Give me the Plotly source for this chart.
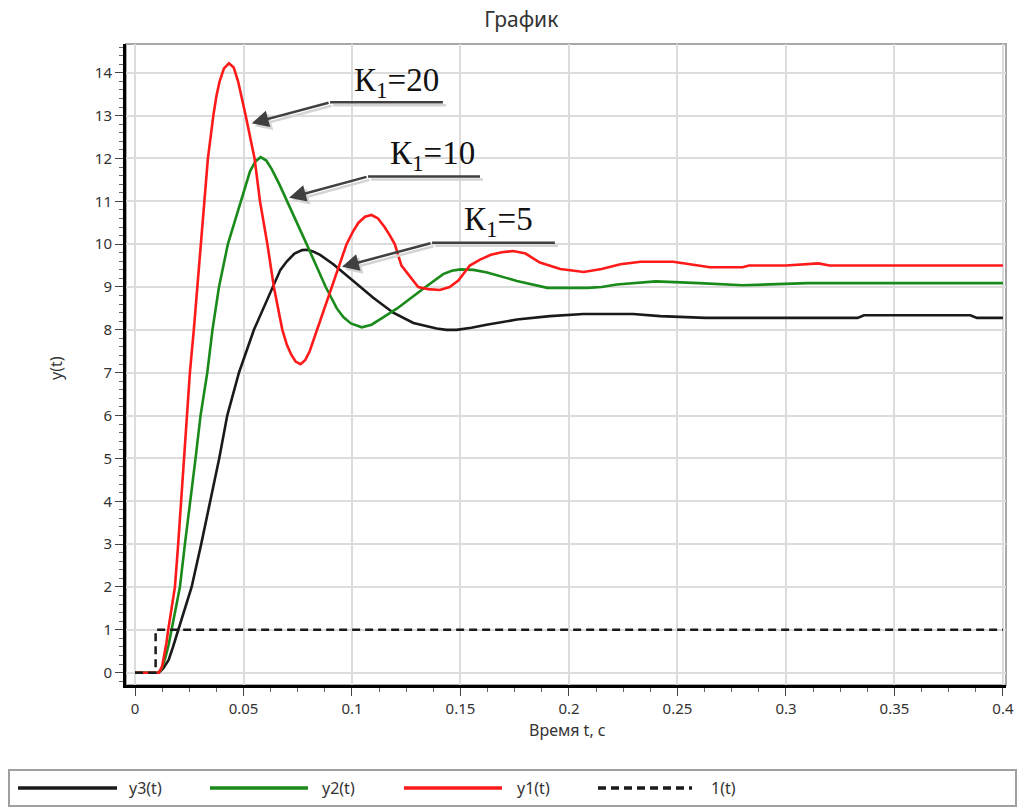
import plotly.graph_objects as go

# ---------------- data ----------------
series_names = ["y3(t)", "y2(t)", "y1(t)", "1(t)"]
series_colors = ["#1a1a1a", "#1a8a1a", "#ff1a1a", "#1a1a1a"]

t_y1 = [0, 0.011, 0.0125, 0.0135, 0.0145, 0.0153, 0.0184, 0.0199, 0.0213, 0.0225, 0.0238,
        0.0253, 0.0271, 0.0287, 0.0305, 0.0321, 0.0336, 0.0361, 0.0375, 0.039, 0.041, 0.0433,
        0.0455, 0.0475, 0.0495, 0.051, 0.0551, 0.0576, 0.061, 0.064, 0.0679, 0.070, 0.072,
        0.074, 0.0763, 0.0785, 0.0805, 0.082, 0.0837, 0.0906, 0.0975, 0.1005, 0.103, 0.106,
        0.109, 0.112, 0.115, 0.1175, 0.1197, 0.1228, 0.1305, 0.135, 0.1405, 0.145, 0.149,
        0.1543, 0.159, 0.164, 0.169, 0.1743, 0.18, 0.1866, 0.196, 0.2068, 0.215, 0.2237,
        0.233, 0.248, 0.256, 0.265, 0.28, 0.283, 0.30, 0.315, 0.32, 0.4]
y1 = [0, 0, 0.15, 0.4, 0.7, 1, 2, 3, 4, 5, 6,
      7, 8, 9, 10, 11, 12, 13, 13.45, 13.8, 14.1, 14.22,
      14.12, 13.8, 13.35, 13, 12, 11, 10, 9, 8, 7.65, 7.42,
      7.26, 7.2, 7.3, 7.5, 7.72, 8, 9, 10, 10.3, 10.5, 10.64,
      10.68, 10.6, 10.4, 10.2, 10, 9.5, 9.0, 8.95, 8.93, 9.0, 9.15,
      9.5, 9.64, 9.75, 9.81, 9.84, 9.78, 9.57, 9.42, 9.35, 9.42, 9.53,
      9.59, 9.59, 9.53, 9.46, 9.46, 9.5, 9.5, 9.55, 9.5, 9.5]

t_y2 = [0, 0.011, 0.0125, 0.014, 0.0155, 0.0168, 0.0207, 0.023, 0.0256, 0.0279, 0.0302,
        0.0333, 0.0357, 0.0387, 0.0428, 0.0487, 0.051, 0.053, 0.0555, 0.0579, 0.0605, 0.063,
        0.0665, 0.0702, 0.0791, 0.0879, 0.093, 0.096, 0.0995, 0.1045, 0.109, 0.114, 0.1208,
        0.1339, 0.138, 0.142, 0.146, 0.15, 0.156, 0.1623, 0.176, 0.19, 0.2085, 0.215,
        0.222, 0.232, 0.24, 0.26, 0.28, 0.31, 0.4]
y2 = [0, 0, 0.12, 0.35, 0.65, 1, 2, 3, 4, 5, 6,
      7, 8, 9, 10, 11, 11.4, 11.7, 11.93, 12.03, 11.95, 11.75,
      11.4, 11, 10, 9, 8.5, 8.3, 8.15, 8.06, 8.12, 8.28, 8.5,
      9.0, 9.15, 9.3, 9.38, 9.41, 9.4, 9.34, 9.14, 8.98, 8.98, 9.0,
      9.06, 9.1, 9.13, 9.09, 9.04, 9.09, 9.09]

t_y3 = [0, 0.011, 0.013, 0.0155, 0.0175, 0.0199, 0.0261, 0.0305, 0.0348, 0.0388, 0.0425,
        0.0479, 0.0548, 0.0633, 0.067, 0.070, 0.0735, 0.077, 0.0795, 0.082, 0.0853, 0.0914,
        0.1006, 0.1098, 0.119, 0.1283, 0.139, 0.1435, 0.1482, 0.155, 0.162, 0.176, 0.1912,
        0.2066, 0.2295, 0.242, 0.263, 0.333, 0.336, 0.385, 0.388, 0.4]
y3 = [0, 0, 0.1, 0.3, 0.6, 1, 2, 3, 4, 5, 6,
      7, 8, 9, 9.4, 9.6, 9.78, 9.86, 9.87, 9.83, 9.75, 9.53,
      9.14, 8.75, 8.4, 8.16, 8.03, 8.0, 8.0, 8.05, 8.12, 8.24, 8.32,
      8.37, 8.37, 8.32, 8.28, 8.28, 8.34, 8.34, 8.28, 8.28]

t_step = [0, 0.0095, 0.0095, 0.4]
y_step = [0, 0, 1, 1]

x_ticks = [0, 0.05, 0.1, 0.15, 0.2, 0.25, 0.3, 0.35, 0.4]
x_tick_labels = ["0", "0.05", "0.1", "0.15", "0.2", "0.25", "0.3", "0.35", "0.4"]
y_ticks = list(range(0, 15))
y_tick_labels = [str(v) for v in y_ticks]

# annotations: label, text centre, underline start/end, arrow tip (data units)
ann_labels = ["К<sub>1</sub>=20", "К<sub>1</sub>=10", "К<sub>1</sub>=5"]
ann_text_xy = [(0.1203, 13.78), (0.1373, 12.06), (0.1673, 10.52)]
ann_line_x = [(0.0899, 0.1419), (0.1074, 0.159), (0.1369, 0.1935)]
ann_line_y = [13.31, 11.58, 10.03]
ann_tip = [(0.0538, 12.82), (0.071, 11.08), (0.0954, 9.47)]

# ---------------- layout geometry ----------------
W, H = 1022, 807
L, R, T, B = 126, 1006, 44, 685
XR = [-0.00415, 0.4014]
YR = [-0.287, 14.67]
FONT = "Noto Sans, Open Sans, DejaVu Sans, sans-serif"
TXT = "#333333"


def px_x(p):
    return (p - L) / (R - L)


def px_y(p):
    return (B - p) / (B - T)


fig = go.Figure()
data = [(t_y3, y3), (t_y2, y2), (t_y1, y1)]
for (tx, ty), name, col in zip(data, series_names[:3], series_colors[:3]):
    fig.add_trace(go.Scatter(x=tx, y=ty, name=name, mode="lines",
                             line=dict(color=col, width=2.6, shape="linear"),
                             showlegend=False))
fig.add_trace(go.Scatter(x=t_step, y=y_step, name=series_names[3], mode="lines",
                         line=dict(color=series_colors[3], width=2.5, dash="8px,5px"),
                         showlegend=False))

shapes = []
annotations = []

# plot frame (grey)
shapes.append(dict(type="rect", xref="paper", yref="paper", x0=0, x1=1, y0=0, y1=1,
                   line=dict(color="#a8a8a8", width=2), layer="below"))

# K1 labels
dx_sh = 3 * (XR[1] - XR[0]) / (R - L)
dy_sh = 3 * (YR[1] - YR[0]) / (B - T)
for lab, (tx, ty), (lx0, lx1), ly, (ax_, ay_) in zip(ann_labels, ann_text_xy, ann_line_x,
                                                      ann_line_y, ann_tip):
    # shadows
    shapes.append(dict(type="line", xref="x", yref="y", x0=lx0 + dx_sh, x1=lx1 + dx_sh,
                       y0=ly - dy_sh, y1=ly - dy_sh, line=dict(color="#d4d4d4", width=2.5)))
    annotations.append(dict(x=ax_ + dx_sh, y=ay_ - dy_sh, ax=lx0 + dx_sh, ay=ly - dy_sh,
                            xref="x", yref="y", axref="x", ayref="y", text="",
                            showarrow=True, arrowhead=2, arrowsize=1.35, arrowwidth=2.5,
                            arrowcolor="#d4d4d4", standoff=0, startstandoff=0))
    # underline + arrow
    shapes.append(dict(type="line", xref="x", yref="y", x0=lx0, x1=lx1, y0=ly, y1=ly,
                       line=dict(color="#404040", width=2.5)))
    annotations.append(dict(x=ax_, y=ay_, ax=lx0, ay=ly, xref="x", yref="y",
                            axref="x", ayref="y", text="", showarrow=True, arrowhead=2,
                            arrowsize=1.35, arrowwidth=2.5, arrowcolor="#404040",
                            standoff=0, startstandoff=0))
    annotations.append(dict(x=tx, y=ty, xref="x", yref="y", text=lab, showarrow=False,
                            font=dict(family="Liberation Serif, Times New Roman, serif",
                                      size=33, color="#111111"),
                            xanchor="center", yanchor="middle"))

# custom legend
shapes.append(dict(type="rect", xref="paper", yref="paper",
                   x0=px_x(9), x1=px_x(1016), y0=px_y(806), y1=px_y(770),
                   line=dict(color="#a0a0a0", width=2), fillcolor="white", layer="below"))
leg_line_x = [(18, 117), (210, 308), (404, 502), (598, 692)]
leg_text_x = [127, 320, 515, 709]
leg_y = 788
for i, name in enumerate(series_names):
    x0, x1 = leg_line_x[i]
    shapes.append(dict(type="line", xref="paper", yref="paper",
                       x0=px_x(x0), x1=px_x(x1), y0=px_y(leg_y), y1=px_y(leg_y),
                       line=dict(color=series_colors[i], width=3.5,
                                 dash="8px,5px" if i == 3 else "solid")))
    annotations.append(dict(x=px_x(leg_text_x[i]), y=px_y(leg_y), xref="paper", yref="paper",
                            text=name, showarrow=False, xanchor="left", yanchor="middle",
                            font=dict(family=FONT, size=16, color=TXT)))

# axis titles
annotations.append(dict(x=px_x(567), y=px_y(730), xref="paper", yref="paper",
                        text="Время t, с", showarrow=False,
                        xanchor="center", yanchor="middle",
                        font=dict(family=FONT, size=16, color=TXT)))
annotations.append(dict(x=px_x(56), y=px_y(368), xref="paper", yref="paper",
                        text="y(t)", showarrow=False, textangle=-90,
                        xanchor="center", yanchor="middle",
                        font=dict(family=FONT, size=16, color=TXT)))

fig.update_layout(
    width=W, height=H,
    margin=dict(l=L, r=W - R, t=T, b=H - B, autoexpand=False),
    paper_bgcolor="white", plot_bgcolor="white",
    title=dict(text="График", x=0.51, xref="container", xanchor="center",
               y=1 - 20 / H, yref="container", yanchor="middle",
               font=dict(family=FONT, size=21, color=TXT)),
    shapes=shapes, annotations=annotations,
    showlegend=False,
    font=dict(family=FONT, size=15, color=TXT),
)
fig.update_xaxes(range=XR, tickvals=x_ticks, ticktext=x_tick_labels,
                 showgrid=True, gridcolor="#dcdcdc", gridwidth=1.5, zeroline=False,
                 showline=True, linecolor="black", linewidth=3,
                 ticks="outside", ticklen=8, tickwidth=1, tickcolor="#444",
                 minor=dict(dtick=0.0125, tick0=0, ticks="outside", ticklen=4,
                            tickcolor="#666", showgrid=False),
                 tickfont=dict(family=FONT, size=15, color=TXT))
fig.update_yaxes(range=YR, tickvals=y_ticks, ticktext=y_tick_labels,
                 showgrid=True, gridcolor="#dcdcdc", gridwidth=1.5, zeroline=False,
                 showline=True, linecolor="black", linewidth=3,
                 ticks="outside", ticklen=8, tickwidth=1, tickcolor="#444",
                 minor=dict(dtick=0.2, tick0=0, ticks="outside", ticklen=4,
                            tickcolor="#666", showgrid=False),
                 tickfont=dict(family=FONT, size=15, color=TXT))

fig.write_html("out.html")
